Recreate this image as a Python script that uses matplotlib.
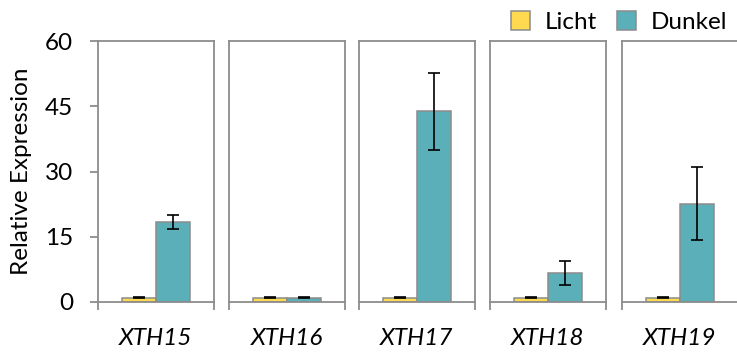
import matplotlib
matplotlib.use("Agg")
import matplotlib.pyplot as plt
from matplotlib.patches import Patch

plt.rcParams['font.family'] = ['Lato', 'DejaVu Sans']

genes = ["XTH15", "XTH16", "XTH17", "XTH18", "XTH19"]
series = ["Licht", "Dunkel"]
licht = [1.0, 1.0, 1.0, 1.0, 1.0]
licht_err = [0.12, 0.12, 0.12, 0.12, 0.12]
dunkel = [18.4, 1.0, 43.8, 6.6, 22.6]
dunkel_err = [1.65, 0.12, 8.75, 2.75, 8.4]
yticks = [0, 15, 30, 45, 60]

c_licht = "#FFD94F"
c_dunkel = "#5BAFB8"
edge = "#8C8C8C"

W, H = 737, 352
fig = plt.figure(figsize=(W / 100, H / 100), dpi=100)

lefts = [98, 229, 359, 490, 622]
pw = 116
bottom = 50
ph = 261
bw = 0.29
fs = 17.5

for i, g in enumerate(genes):
    ax = fig.add_axes([lefts[i] / W, bottom / H, pw / W, ph / H])
    ax.bar(-bw / 2, licht[i], width=bw, color=c_licht, edgecolor=edge, linewidth=1.1,
           yerr=licht_err[i], error_kw=dict(ecolor="black", elinewidth=1.2, capsize=4, capthick=1.2))
    ax.bar(bw / 2, dunkel[i], width=bw, color=c_dunkel, edgecolor=edge, linewidth=1.1,
           yerr=dunkel_err[i], error_kw=dict(ecolor="black", elinewidth=1.2, capsize=4, capthick=1.2))
    ax.set_xlim(-0.5, 0.5)
    ax.set_ylim(0, 60)
    for s in ax.spines.values():
        s.set_color(edge)
        s.set_linewidth(1.3)
    ax.set_xticks([-0.5, 0.5])
    ax.set_xticklabels([])
    ax.tick_params(axis='x', direction='out', length=6, width=1.3, color=edge)
    ax.text(0.5, -0.1, g, transform=ax.transAxes, ha='center', va='top',
            fontsize=fs, style='italic')
    if i == 0:
        ax.set_yticks(yticks)
        ax.set_yticklabels([str(t) for t in yticks], fontsize=fs)
        ax.tick_params(axis='y', direction='out', length=6, width=1.3, color=edge, pad=12)
        ax.set_ylabel("Relative Expression", fontsize=fs, labelpad=9)
    else:
        ax.set_yticks([])

handles = [Patch(facecolor=c_licht, edgecolor=edge, linewidth=1.1),
           Patch(facecolor=c_dunkel, edgecolor=edge, linewidth=1.1)]
fig.legend(handles, series, loc='center right', bbox_to_anchor=(737 / W, 1 - 22 / H),
           ncol=2, frameon=False, fontsize=fs, handlelength=0.8, handleheight=0.8,
           handletextpad=0.6, columnspacing=0.8, borderaxespad=0)

fig.savefig("out.png", dpi=100)
